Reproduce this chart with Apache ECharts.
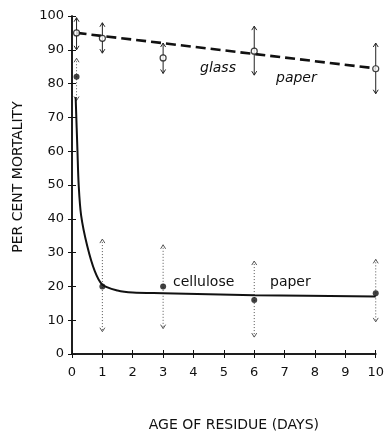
<!DOCTYPE html>
<html>
<head>
<meta charset="utf-8">
<script src="https://cdn.jsdelivr.net/npm/echarts@6/dist/echarts.min.js"></script>
<style>
  html, body { margin: 0; padding: 0; background: #fff; }
  #chart { width: 387px; height: 437px; }
</style>
</head>
<body>
<div id="chart"></div>
<script>
// ages (days) and mortality (%)
const glassDays = [0.15, 1, 3, 6, 10];
const glassMean = [95, 93.4, 87.6, 89.6, 84.4];
const glassLow = [90, 89, 83, 82.5, 77];
const glassHigh = [99.5, 98, 92, 97, 92];
const glassLine = [[0.15, 95], [10, 84.5]];

const celluloseDays = [0.15, 1, 3, 6, 10];
const celluloseMean = [82, 20, 20, 16, 18];
const celluloseLow = [75, 6.6, 7.5, 5, 9.5];
const celluloseHigh = [87.5, 34, 32.3, 27.5, 28];
const celluloseCurve = [
  [0.12, 76], [0.18, 60], [0.22, 50], [0.3, 41], [0.5, 32], [0.75, 24.5],
  [1, 20.5], [1.5, 18.8], [2, 18.2], [3, 18], [6, 17.4], [10, 17]
];

const xTicks = [0, 1, 2, 3, 4, 5, 6, 7, 8, 9, 10];
const yTicks = [0, 10, 20, 30, 40, 50, 60, 70, 80, 90, 100];

const FONT = "DejaVu Sans";
const chart = echarts.init(document.getElementById("chart"));

// error bar with small arrow heads at both ends
const errorBar = (style) => (params, api) => {
  const x = api.value(0);
  const top = api.coord([x, api.value(2)]);
  const bot = api.coord([x, api.value(1)]);
  const s = Object.assign({ stroke: "#222", lineWidth: 1, fill: null }, style);
  const head = Object.assign({}, s, { lineDash: null });
  return {
    type: "group",
    children: [
      { type: "line", shape: { x1: top[0], y1: top[1], x2: bot[0], y2: bot[1] }, style: s },
      { type: "polyline", shape: { points: [[top[0] - 2.5, top[1] + 4], top, [top[0] + 2.5, top[1] + 4]] }, style: head },
      { type: "polyline", shape: { points: [[bot[0] - 2.5, bot[1] - 4], bot, [bot[0] + 2.5, bot[1] - 4]] }, style: head }
    ]
  };
};

const axisLine = { lineStyle: { color: "#111", width: 1.5 } };
const tick = { inside: true, length: 4, lineStyle: { color: "#111", width: 1 } };

chart.setOption({
  animation: false,
  grid: { left: 72, right: 7, top: 16, bottom: 74 },
  xAxis: [
    {
      type: "value", min: 0, max: 10, interval: 1, position: "bottom",
      axisLine, axisTick: tick, splitLine: { show: false },
      axisLabel: { color: "#111", fontSize: 13, fontFamily: FONT, margin: 12,
        formatter: (v) => (xTicks.includes(v) ? String(v) : "") },
      name: "AGE OF RESIDUE (DAYS)", nameLocation: "middle", nameGap: 64,
      nameTextStyle: { color: "#111", fontSize: 14, fontFamily: FONT, padding: [0, 0, 0, 20] }
    },
    {
      type: "value", min: 0, max: 10, interval: 1, position: "top",
      axisLine, axisTick: tick, axisLabel: { show: false }, splitLine: { show: false }
    }
  ],
  yAxis: [
    {
      type: "value", min: 0, max: 100, interval: 10, position: "left",
      axisLine, axisTick: tick, splitLine: { show: false },
      axisLabel: { color: "#111", fontSize: 13, fontFamily: FONT, margin: 8,
        formatter: (v) => (yTicks.includes(v) ? String(v) : "") },
      name: "PER CENT MORTALITY", nameLocation: "middle", nameGap: 47,
      nameTextStyle: { color: "#111", fontSize: 14, fontFamily: FONT, padding: [0, 0, 0, 16] }
    },
    {
      type: "value", min: 0, max: 100, interval: 10, position: "right",
      axisLine, axisTick: tick, axisLabel: { show: false }, splitLine: { show: false }
    }
  ],
  graphic: [
    { type: "text", left: 200, top: 61, style: { text: "glass", font: "italic 14px " + FONT, fill: "#111" } },
    { type: "text", left: 276, top: 71, style: { text: "paper", font: "italic 14px " + FONT, fill: "#111" } },
    { type: "text", left: 173, top: 275, style: { text: "cellulose", font: "14px " + FONT, fill: "#111" } },
    { type: "text", left: 270, top: 275, style: { text: "paper", font: "14px " + FONT, fill: "#111" } }
  ],
  series: [
    {
      name: "glass error", type: "custom", renderItem: errorBar({ stroke: "#222", lineWidth: 1 }),
      data: glassDays.map((d, i) => [d, glassLow[i], glassHigh[i]]), z: 2
    },
    {
      name: "cellulose error", type: "custom",
      renderItem: errorBar({ stroke: "#555", lineWidth: 1, lineDash: [1, 2] }),
      data: celluloseDays.map((d, i) => [d, celluloseLow[i], celluloseHigh[i]]), z: 2
    },
    {
      name: "glass fit", type: "line", data: glassLine, showSymbol: false,
      lineStyle: { color: "#111", width: 2.6, type: [10, 5] }, z: 3
    },
    {
      name: "cellulose fit", type: "line", data: celluloseCurve, smooth: 0.3, showSymbol: false,
      lineStyle: { color: "#111", width: 2 }, z: 3
    },
    {
      name: "glass paper", type: "scatter", symbol: "circle", symbolSize: 6,
      itemStyle: { color: "#fff", borderColor: "#111", borderWidth: 1.2 },
      data: glassDays.map((d, i) => [d, glassMean[i]]), z: 4
    },
    {
      name: "cellulose paper", type: "scatter", symbol: "circle", symbolSize: 6,
      itemStyle: { color: "#111" },
      data: celluloseDays.map((d, i) => [d, celluloseMean[i]]), z: 4
    }
  ]
});
</script>
</body>
</html>
